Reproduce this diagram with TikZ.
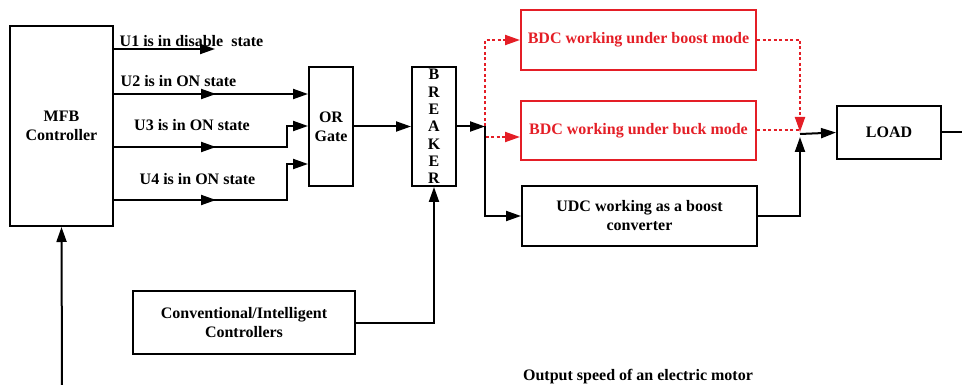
\documentclass[tikz,border=0pt]{standalone}
\usepackage{fontspec}
\setmainfont{Liberation Serif}
\usepackage{tikz}
\usetikzlibrary{arrows.meta,positioning,calc,decorations.markings}
\definecolor{lnedge}{RGB}{0,0,0}
\definecolor{bdcred}{RGB}{228,30,38}
\tikzset{
  blk/.style={
    draw=lnedge, line width=2pt, align=center, inner sep=2pt,
    font=\fontsize{16}{19}\selectfont\bfseries
  },
  rblk/.style={blk, draw=bdcred, text=bdcred},
  arr/.style={-{Triangle[length=15pt,width=10pt]}, draw=lnedge, line width=2pt},
  darr/.style={arr, draw=bdcred, dash pattern=on 3pt off 2.5pt},
  dln/.style={draw=bdcred, line width=2pt, dash pattern=on 3pt off 2.5pt},
  ln/.style={draw=lnedge, line width=2pt},
  midarr/.style={postaction={decorate}, decoration={markings,
      mark=at position 102pt with {\arrow{Triangle[length=15pt,width=10pt]}}}},
  lab/.style={font=\fontsize{16}{19}\selectfont\bfseries, inner sep=0pt}
}
\begin{document}
\begin{tikzpicture}[x=1pt,y=-1pt]
  \useasboundingbox (0,0) rectangle (962,385);
  % blocks
  \node[blk, minimum width=103pt, minimum height=200pt] (mfb) at (61.5,126) {MFB\\Controller};
  \node[blk, minimum width=44pt, minimum height=119pt] (org) at (331,126.5) {OR\\Gate};
  \node[blk, minimum width=44pt, minimum height=119pt, inner sep=0pt,
        font=\fontsize{16}{17.3}\selectfont\bfseries] (brk) at (434,126.5) {B\\R\\E\\A\\K\\E\\R};
  \node[rblk, minimum width=235pt, minimum height=60pt] (boost) at (638.5,40) {BDC working under boost mode};
  \node[rblk, minimum width=235pt, minimum height=59pt] (buck) at (638.5,130.5) {BDC working under buck mode};
  \node[blk, minimum width=235pt, minimum height=60pt] (udc) at (639.5,216) {UDC working as a boost\\converter};
  \node[blk, minimum width=104pt, minimum height=53pt] (load) at (889,132.5) {LOAD};
  \node[blk, minimum width=222pt, minimum height=63pt] (conv) at (244,322.5) {Conventional/Intelligent\\Controllers};
  \node[lab] (outspd) at (638,377) {Output speed of an electric motor};
  % state labels
  \node[lab] (u1lab) at (191.5,41) {U1 is in disable\ \ state};
  \node[lab] (u2lab) at (178.5,81) {U2 is in ON state};
  \node[lab] (u3lab) at (192,125) {U3 is in ON state};
  \node[lab] (u4lab) at (197.5,179) {U4 is in ON state};
  % coordinates
  \coordinate (u1) at (215,49);
  \coordinate (jn) at (485,126.5);
  \coordinate (mrg) at (800,134);
  \coordinate (outr) at (962,132.5);
  \coordinate (fb) at (62,385);
  % controller outputs
  \draw[arr] (mfb.east |- u1) -- (u1);
  \draw[arr, midarr] (mfb.east |- 0,94) -- (org.west |- 0,94);
  \draw[arr, midarr] (mfb.east |- 0,147) -- (287,147) -- (287,126) -- (org.west |- 0,126);
  \draw[arr, midarr] (mfb.east |- 0,200) -- (287,200) -- (287,164) -- (org.west |- 0,164);
  \draw[arr] (org.east |- jn) -- (brk.west |- jn);
  \draw[arr] (brk.east |- jn) -- (jn);
  % converters
  \draw[darr] (jn) |- (boost.west);
  \draw[darr] (jn) |- ([yshift=-6.5pt]buck.west);
  \draw[arr] (jn) |- (udc.west);
  \draw[darr] (boost.east) -| ([yshift=2pt]mrg);
  \draw[dln] (buck.east) -- (buck.east -| mrg);
  \draw[arr] (udc.east) -| ([yshift=-3pt]mrg);
  \draw[arr] (mrg) -- (load.west);
  \draw[ln] (load.east) -- (outr);
  % feedback
  \draw[arr] (conv.east) -| (brk.south);
  \draw[arr] (fb) -- (mfb.south);
\end{tikzpicture}
\end{document}
